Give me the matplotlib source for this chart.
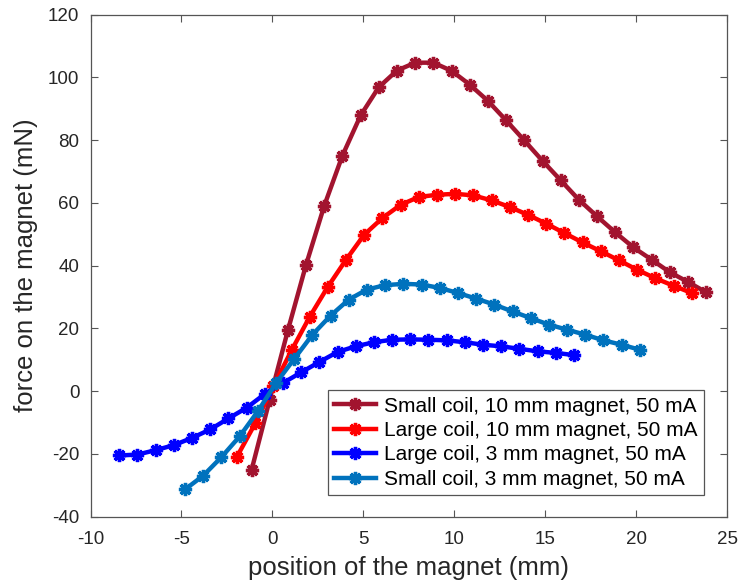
import numpy as np
import matplotlib
matplotlib.use("Agg")
import matplotlib.pyplot as plt

plt.rcParams['font.family'] = ['Liberation Sans', 'DejaVu Sans']
plt.rcParams['axes.unicode_minus'] = False

labels = ["Small coil, 10 mm magnet, 50 mA",
          "Large coil, 10 mm magnet, 50 mA",
          "Large coil, 3 mm magnet, 50 mA",
          "Small coil, 3 mm magnet, 50 mA"]
colors = ["#A2142F", "#FF0000", "#0000FF", "#0072BD"]

x_small10 = -1.15 + np.arange(26)
y_small10 = [-25.2, -2.7, 19.4, 40.3, 59.1, 75.1, 87.9, 96.9, 102.2, 104.7,
             104.7, 102.1, 97.7, 92.5, 86.3, 79.9, 73.4, 67.2, 61.0, 55.7,
             50.6, 45.8, 41.9, 37.9, 34.8, 31.5]

x_large10 = -1.95 + np.arange(26)
y_large10 = [-20.9, -10.3, 1.5, 13.0, 23.7, 33.3, 41.9, 49.9, 55.2, 59.4,
             61.9, 62.6, 62.9, 62.4, 60.8, 58.7, 56.2, 53.4, 50.4, 47.4,
             44.6, 41.7, 38.7, 36.0, 33.6, 31.3]

x_large3 = -8.42 + np.arange(26)
y_large3 = [-20.5, -20.2, -18.8, -17.2, -14.9, -12.2, -8.7, -5.3, -0.9, 2.6,
            6.0, 9.3, 12.5, 14.3, 15.6, 16.4, 16.5, 16.4, 16.2, 15.6,
            14.8, 14.3, 13.5, 12.7, 12.2, 11.5]

x_small3 = -4.8 + np.arange(26)
y_small3 = [-31.3, -26.9, -21.0, -14.4, -6.4, 2.6, 10.3, 18.0, 24.1, 29.2,
            32.4, 33.8, 34.2, 34.0, 32.9, 31.3, 29.5, 27.6, 25.4, 23.3,
            21.2, 19.6, 18.0, 16.2, 14.8, 13.2]

xs = [x_small10, x_large10, x_large3, x_small3]
ys = [y_small10, y_large10, y_large3, y_small3]

fig = plt.figure(figsize=(7.42, 5.87), dpi=100)
ax = fig.add_axes([0.122, 0.1198, 0.858, 0.8552])

for x, y, c, lab in zip(xs, ys, colors, labels):
    ax.plot(x, y, '-', color=c, lw=3.2, marker=(8, 2, 0), ms=9.5, mew=2.4,
            label=lab)

ax.set_xlim(-10, 25)
ax.set_ylim(-40, 120)
ax.set_xticks(np.arange(-10, 26, 5))
ax.set_yticks(np.arange(-40, 121, 20))

axcol = '#262626'
for s in ax.spines.values():
    s.set_color('#555555')
    s.set_linewidth(0.9)
ax.tick_params(direction='in', length=5, width=0.8, colors='#555555',
               labelcolor=axcol, labelsize=13.5, top=True, right=True)
ax.tick_params(axis='x', pad=10)
ax.tick_params(axis='y', pad=8)

ax.set_xlabel("position of the magnet (mm)", fontsize=18.5, color=axcol, labelpad=6)
ax.set_ylabel("force on the magnet (mN)", fontsize=18.5, color=axcol, labelpad=7)

leg = ax.legend(loc='lower right', fontsize=15, frameon=True, fancybox=False,
                edgecolor='#555555', framealpha=1, handlelength=2.0,
                labelspacing=0.26, borderpad=0.3, handletextpad=0.4,
                bbox_to_anchor=(0.963, 0.043), borderaxespad=0)
leg.get_frame().set_linewidth(0.9)
for t in leg.get_texts():
    t.set_color('#000000')

fig.savefig("out.png", dpi=100)
